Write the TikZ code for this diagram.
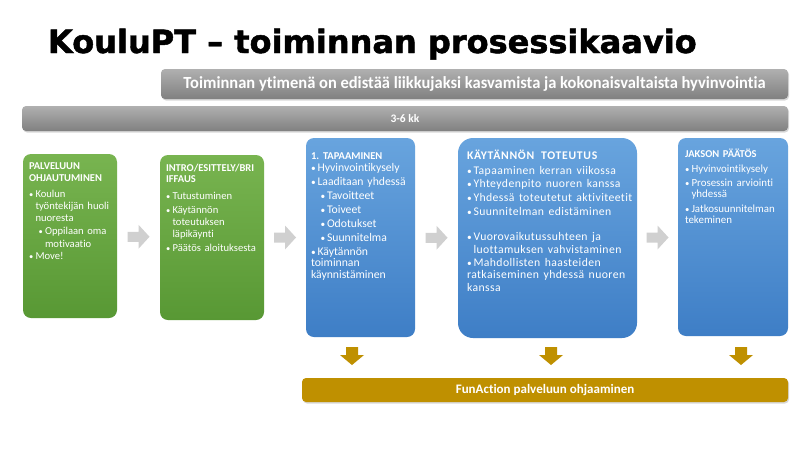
\documentclass[tikz,border=0pt]{standalone}
\usepackage{fontspec}
\usepackage{graphicx}
\setmainfont{Carlito}[Ligatures={NoCommon}]
\newfontfamily\otsikkofont{DejaVu Sans}[BoldFeatures={FakeBold=1.5}]
\usetikzlibrary{calc,shadows}
\definecolor{vihreaY}{RGB}{120,180,80}
\definecolor{vihreaA}{RGB}{88,152,52}
\definecolor{siniY}{RGB}{104,164,222}
\definecolor{siniA}{RGB}{62,126,198}
\definecolor{harmaaY}{RGB}{176,176,176}
\definecolor{harmaaA}{RGB}{128,128,128}
\definecolor{nuoli}{RGB}{208,208,208}
\definecolor{kulta}{RGB}{191,144,0}

% bullet items, one level and two levels
\newlength{\valit}
\setlength{\valit}{1.8pt}
\newcommand{\pallo}{\makebox[6.5pt][l]{\scalebox{0.8}{\textbullet}}}
\newcommand{\punkt}{\par\vskip\valit\hangindent=6.5pt\hangafter=1\noindent\pallo}
\newcommand{\alapunkt}{\par\vskip\valit\hangindent=16pt\hangafter=1\noindent\hspace*{9.5pt}\pallo}
\newcommand{\otsake}[1]{{\bfseries\fontsize{10.5}{11.7}\selectfont #1}}

\begin{document}
\begin{tikzpicture}[x=1pt,y=-1pt,every node/.style={inner sep=0pt,outer sep=0pt},
    koko/.style 2 args={minimum width=#1,minimum height=#2},
    vlaatikko/.style={rectangle,rounded corners=8pt,top color=vihreaY,bottom color=vihreaA},
    slaatikko/.style={rectangle,rounded corners=8pt,top color=siniY,bottom color=siniA},
    palkki/.style={rectangle,rounded corners=4pt,top color=harmaaY,bottom color=harmaaA,text=white,
        drop shadow={opacity=0.3,shadow xshift=1pt,shadow yshift=-1.5pt}},
    kultapalkki/.style={rectangle,rounded corners=4pt,fill=kulta,text=white,
        drop shadow={opacity=0.3,shadow xshift=1pt,shadow yshift=-1.5pt}},
    teksti/.style={anchor=base west,align=left,text=white,text width=#1},
    teksti/.default=130]
    \path[fill=white,use as bounding box] (0,0) rectangle (800,450);

    % title
    \node[anchor=base west,font=\otsikkofont\bfseries\fontsize{32}{32}\selectfont] (otsikko) at (48,53) {KouluPT – toiminnan prosessikaavio};

    % grey bars
    \node[palkki,koko={627}{30},font=\bfseries\fontsize{17}{17}\selectfont] (ydin) at (474.5,84)
        {\scalebox{0.97}[1]{Toiminnan ytimenä on edistää liikkujaksi kasvamista ja kokonaisvaltaista hyvinvointia}};
    \node[palkki,koko={766}{25},font=\bfseries\fontsize{11.5}{12}\selectfont] (kesto) at (405,118.5) {3-6 kk};

    % the five phases
    \node[vlaatikko,koko={94}{164}] (palv) at (70,236) {};
    \node[vlaatikko,koko={104}{165}] (intro) at (212,237.5) {};
    \node[slaatikko,koko={109}{199}] (tapa) at (360.5,237.5) {};
    \node[slaatikko,koko={179}{200},rounded corners=15pt] (kayt) at (547.5,238) {};
    \node[slaatikko,koko={110}{198}] (jakso) at (733,237) {};

    \node[teksti,font=\fontsize{10.6}{12.3}\selectfont] (palvT) at (29,169) {\setlength{\valit}{0.5pt}%
        \otsake{PALVELUUN\newline OHJAUTUMINEN}\par\vskip3.2pt
        \punkt Koulun\newline työntekijän huoli\newline nuoresta
        \alapunkt Oppilaan oma\newline motivaatio
        \punkt Move!};
    \node[teksti,font=\fontsize{10.6}{11.7}\selectfont] (introT) at (166,171) {\setlength{\valit}{2.3pt}%
        \otsake{INTRO/ESITTELY/BRI\newline IFFAUS}\par\vskip3pt
        \punkt Tutustuminen
        \punkt Käytännön\newline toteutuksen\newline läpikäynti
        \punkt Päätös aloituksesta};
    \node[teksti,font=\fontsize{11.7}{11.7}\selectfont] (tapaT) at (311,159) {\setlength{\valit}{2.3pt}%
        \otsake{1.\ TAPAAMINEN}\par\vskip-2pt
        \punkt Hyvinvointikysely
        \punkt Laaditaan yhdessä
        \alapunkt Tavoitteet
        \alapunkt Toiveet
        \alapunkt Odotukset
        \alapunkt Suunnitelma
        \punkt Käytännön\newline toiminnan\newline käynnistäminen};
    \node[teksti=175,font=\fontsize{11.7}{12.2}\selectfont] (kaytT) at (467,159) {\setlength{\valit}{1.5pt}%
        {\bfseries\addfontfeature{LetterSpace=6}KÄYTÄNNÖN\hspace{3pt} TOTEUTUS}\par\vskip1.3pt
        \addfontfeature{LetterSpace=3.5}\spaceskip=4.5pt
        \punkt Tapaaminen kerran viikossa
        \punkt Yhteydenpito nuoren kanssa
        \punkt Yhdessä toteutetut aktiviteetit
        \punkt Suunnitelman edistäminen\par\vskip12pt
        \punkt Vuorovaikutussuhteen ja\newline luottamuksen vahvistaminen
        \punkt Mahdollisten haasteiden\newline ratkaiseminen yhdessä nuoren\newline kanssa};
    \node[teksti,font=\fontsize{10.9}{11.5}\selectfont] (jaksoT) at (685,157) {\setlength{\valit}{2.8pt}%
        \otsake{JAKSON PÄÄTÖS}\par\vskip0.7pt
        \punkt Hyvinvointikysely
        \punkt Prosessin arviointi\newline yhdessä
        \punkt Jatkosuunnitelman\newline tekeminen};

    % grey arrows between the phases
    \foreach \a/\b in {palv/intro,intro/tapa,tapa/kayt,kayt/jakso}{
        \coordinate (n\a) at ($(\a.east)!0.5!(\b.west)$);
        \fill[nuoli] (n\a) ++(-11,-5) -- ++(11,0) -- ++(0,-7) -- ++(11,12) -- ++(-11,12) -- ++(0,-7) -- ++(-11,0) -- cycle;
    }

    % gold bar and the arrows down to it
    \node[kultapalkki,koko={486}{24},font=\bfseries\fontsize{13}{13}\selectfont] (funaction) at (545,390) {FunAction palveluun ohjaaminen};
    \foreach \x/\n in {352/k1,551/k2,741/k3}{
        \coordinate (\n) at (\x,356);
        \fill[kulta] (\n) ++(-6,-9) -- ++(12,0) -- ++(0,8) -- ++(6,0) -- ++(-12,10) -- ++(-12,-10) -- ++(6,0) -- cycle;
    }
\end{tikzpicture}
\end{document}
